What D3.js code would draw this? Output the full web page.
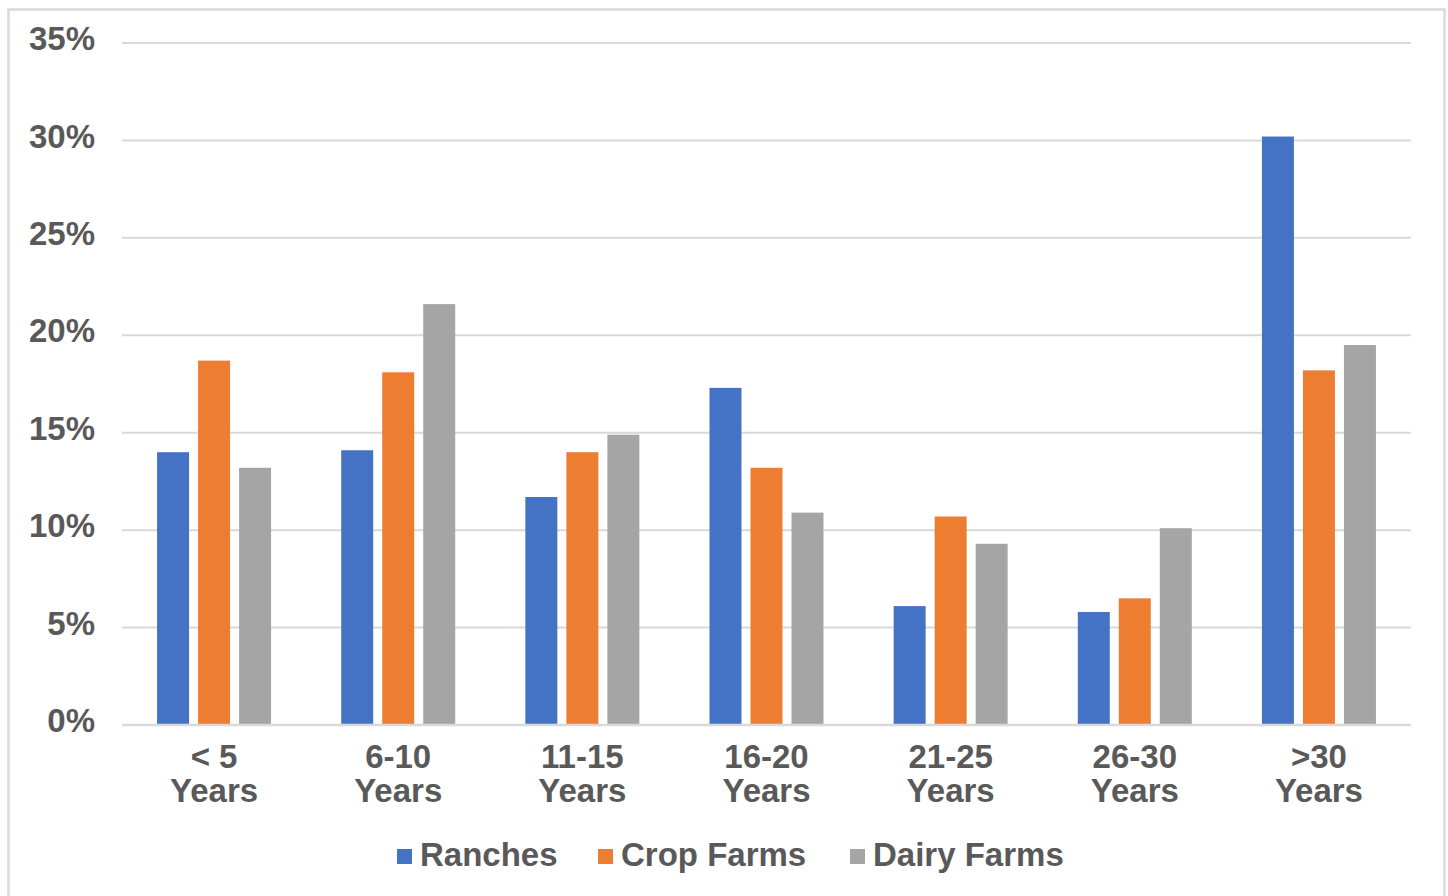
<!DOCTYPE html>
<html>
<head>
<meta charset="utf-8">
<script src="https://cdn.jsdelivr.net/npm/d3@7"></script>
<style>
  html, body { margin: 0; padding: 0; background: #fff; }
  svg { display: block; font-family: "Liberation Sans", Arial, sans-serif; }
</style>
</head>
<body>
<div id="chart"></div>
<script>
const categories = ['< 5|Years', '6-10|Years', '11-15|Years', '16-20|Years', '21-25|Years', '26-30|Years', '>30|Years'];
const seriesNames = ['Ranches', 'Crop Farms', 'Dairy Farms'];
const colors = ['#4472c4', '#ed7d31', '#a5a5a5'];
const ranches = [14.0, 14.1, 11.7, 17.3, 6.1, 5.8, 30.2];
const cropFarms = [18.7, 18.1, 14.0, 13.2, 10.7, 6.5, 18.2];
const dairyFarms = [13.2, 21.6, 14.9, 10.9, 9.3, 10.1, 19.5];
const yTicks = [0, 5, 10, 15, 20, 25, 30, 35];

const width = 1448, height = 896;
const plotLeft = 122, plotRight = 1411, plotTop = 43, plotBottom = 725;
const textColor = '#595959';
const fontSize = 33;

const svg = d3.select('#chart')
              .append('svg')
              .attr('width', width)
              .attr('height', height);

// chart frame
svg.append('rect')
   .attr('x', 8.5).attr('y', 9.5)
   .attr('width', 1436).attr('height', 900)
   .attr('fill', 'none')
   .attr('stroke', '#d9d9d9')
   .attr('stroke-width', 2.5);

const xScale = d3.scaleBand().domain(categories).range([plotLeft, plotRight]);
const inner = d3.scaleBand().domain(seriesNames).range([-57, 57]).paddingInner(0.22);
const yScale = d3.scaleLinear().domain([0, 35]).range([plotBottom, plotTop]);

// gridlines
svg.append('g')
   .selectAll('line')
   .data(yTicks)
   .enter()
   .append('line')
   .attr('x1', plotLeft).attr('x2', plotRight)
   .attr('y1', d => yScale(d)).attr('y2', d => yScale(d))
   .attr('stroke', '#d9d9d9')
   .attr('stroke-width', 2);

// y axis labels
const yAxis = d3.axisLeft(yScale).tickValues(yTicks).tickFormat(d => d + '%').tickSize(0).tickPadding(0);
const yg = svg.append('g')
   .attr('transform', `translate(95, 0)`)
   .call(yAxis);
yg.select('.domain').remove();
yg.selectAll('text')
  .attr('fill', textColor)
  .attr('font-size', fontSize)
  .attr('font-weight', 'bold')
  .attr('font-family', '"Liberation Sans", Arial, sans-serif')
  .attr('dy', '0.2em');

// bars
const seriesData = [ranches, cropFarms, dairyFarms];
seriesData.forEach((vals, s) => {
  svg.append('g')
     .selectAll('rect')
     .data(vals)
     .enter()
     .append('rect')
     .attr('x', (d, i) => xScale(categories[i]) + xScale.bandwidth() / 2 + inner(seriesNames[s]))
     .attr('y', d => yScale(d))
     .attr('width', inner.bandwidth())
     .attr('height', d => plotBottom - yScale(d))
     .attr('fill', colors[s]);
});

// x axis line
svg.append('line')
   .attr('x1', plotLeft).attr('x2', plotRight)
   .attr('y1', plotBottom).attr('y2', plotBottom)
   .attr('stroke', '#d9d9d9')
   .attr('stroke-width', 2.5);

// x labels
const xl = svg.append('g')
   .selectAll('text')
   .data(categories)
   .enter()
   .append('text')
   .attr('x', d => xScale(d) + xScale.bandwidth() / 2)
   .attr('y', 768)
   .attr('text-anchor', 'middle')
   .attr('fill', textColor)
   .attr('font-size', fontSize)
   .attr('font-weight', 'bold');
xl.each(function(d) {
  const parts = d.split('|');
  const t = d3.select(this);
  parts.forEach((p, k) => {
    t.append('tspan')
     .attr('x', xScale(d) + xScale.bandwidth() / 2)
     .attr('dy', k === 0 ? 0 : 34)
     .text(p);
  });
});

// legend
const legendX = [397, 598, 850];
const lg = svg.append('g');
seriesNames.forEach((name, i) => {
  lg.append('rect')
    .attr('x', legendX[i]).attr('y', 849)
    .attr('width', 15).attr('height', 15)
    .attr('fill', colors[i]);
  lg.append('text')
    .attr('x', legendX[i] + 23).attr('y', 866)
    .attr('fill', textColor)
    .attr('font-size', fontSize)
    .attr('font-weight', 'bold')
    .text(name);
});
</script>
</body>
</html>
